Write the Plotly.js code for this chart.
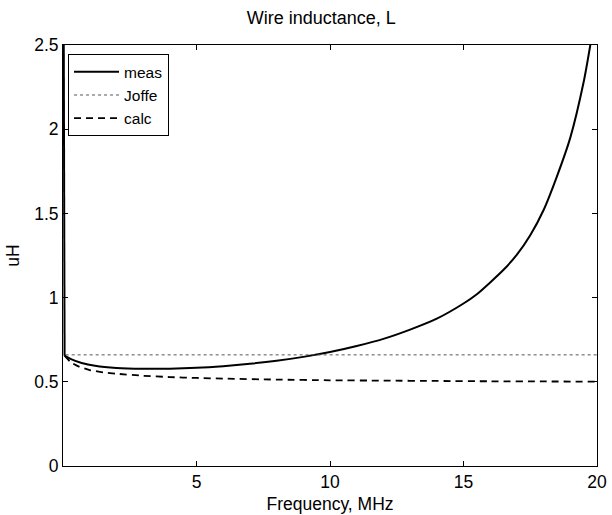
<!DOCTYPE html>
<html>
<head>
<meta charset="utf-8">
<script src="https://cdn.plot.ly/plotly-3.0.1.min.js"></script>
<style>html,body{margin:0;padding:0;background:#fff;}#chart{width:612px;height:515px;}</style>
</head>
<body>
<div id="chart"></div>
<script>
// Measured inductance (uH) vs frequency (MHz): low-frequency spike, then main curve
const measSpikeFreq = [0.02, 0.06];
const measSpikeL    = [3.0, 0.655];
const measFreq = [0.06, 0.3, 0.7, 1.2, 2, 3, 4, 5, 6, 7, 8, 9, 10, 11, 12, 13, 14, 15, 15.5, 16, 16.5, 17, 17.5, 18, 18.5, 19, 19.5, 19.75, 20];
const measL    = [0.655, 0.635, 0.612, 0.595, 0.582, 0.577, 0.578, 0.583, 0.593, 0.607, 0.625, 0.648, 0.677, 0.713, 0.755, 0.81, 0.875, 0.965, 1.02, 1.09, 1.165, 1.255, 1.37, 1.52, 1.72, 1.95, 2.28, 2.5, 2.75];
// Joffe estimate
const joffeFreq = [0.1, 20];
const joffeL    = [0.66, 0.66];
// Calculated inductance
const calcFreq = [0.06, 0.3, 0.6, 1, 1.5, 2, 3, 4, 5, 6, 8, 10, 12, 14, 16, 18, 20];
const calcL    = [0.655, 0.615, 0.590, 0.570, 0.556, 0.548, 0.536, 0.528, 0.523, 0.519, 0.513, 0.509, 0.507, 0.505, 0.503, 0.502, 0.501];
const xTicks = [5, 10, 15, 20];
const yTicks = [0, 0.5, 1, 1.5, 2, 2.5];

const fam = 'Liberation Sans, Arial, sans-serif';
const font = {family: fam, size: 17.5, color: '#000'};
const traces = [
  {x: measFreq, y: measL, name: 'meas', legendgroup: 'meas', mode: 'lines', line: {color: '#000', width: 2, shape: 'spline', smoothing: 0.6}},
  {x: joffeFreq, y: joffeL, name: 'Joffe', mode: 'lines', line: {color: '#555', width: 1, dash: 'dot'}},
  {x: calcFreq, y: calcL, name: 'calc', mode: 'lines', line: {color: '#000', width: 1.8, dash: '7px,5px', shape: 'spline', smoothing: 0.6}},
  {x: measSpikeFreq, y: measSpikeL, name: 'meas', legendgroup: 'meas', showlegend: false, mode: 'lines', line: {color: '#000', width: 2}}
];
const axisCommon = {showline: true, linecolor: '#000', linewidth: 1, mirror: 'ticks', ticks: 'inside', ticklen: 5, tickcolor: '#000', showgrid: false, zeroline: false, tickfont: font};
const layout = {
  width: 612, height: 515,
  margin: {l: 63, r: 15, t: 45, b: 49},
  paper_bgcolor: '#fff', plot_bgcolor: '#fff',
  font: font,
  title: {text: 'Wire inductance, L', font: {family: fam, size: 18, color: '#000'}, x: 0.525, xanchor: 'center', y: 0.965, yanchor: 'middle', yref: 'container'},
  xaxis: Object.assign({}, axisCommon, {range: [0, 20], tickvals: xTicks, ticktext: xTicks.map(String), title: {text: 'Frequency, MHz', font: font, standoff: 6}}),
  yaxis: Object.assign({}, axisCommon, {range: [0, 2.5], tickvals: yTicks, ticktext: yTicks.map(String), title: {text: 'uH', font: font, standoff: 10}}),
  legend: {x: 0.0094, y: 0.978, xanchor: 'left', yanchor: 'top', bgcolor: '#fff', bordercolor: '#000', borderwidth: 1, font: {family: fam, size: 15.5, color: '#000'}, tracegroupgap: 0, itemwidth: 45},
  showlegend: true
};
Plotly.newPlot('chart', traces, layout, {staticPlot: true});
</script>
</body>
</html>
